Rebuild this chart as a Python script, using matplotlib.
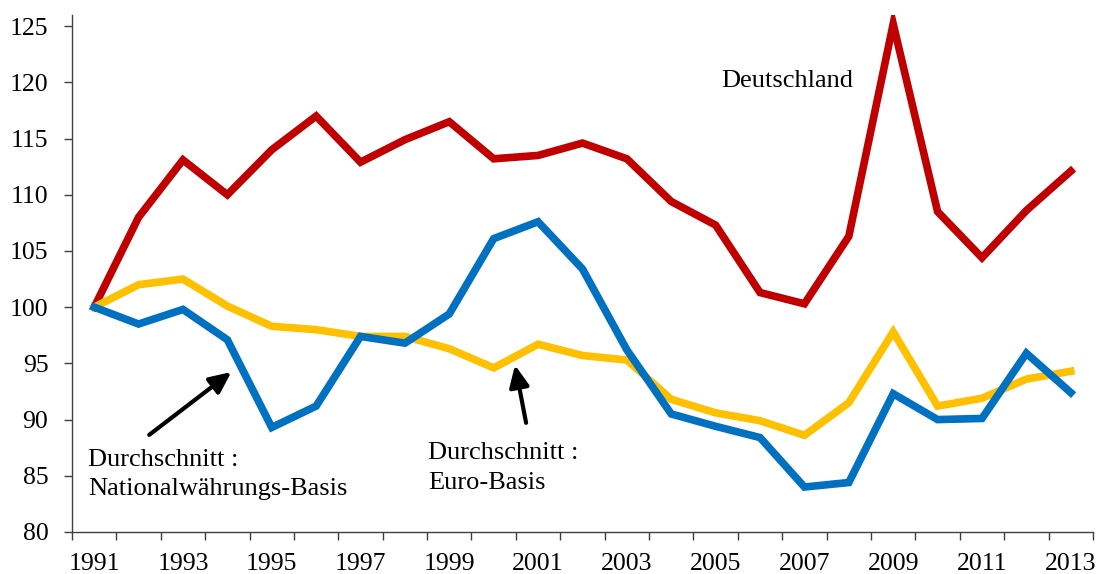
import matplotlib
matplotlib.use("Agg")
import matplotlib.pyplot as plt
import numpy as np

years = list(range(1991, 2014))
deutschland = [100, 108, 113.1, 110, 114, 117, 112.9, 114.9, 116.5, 113.2, 113.5, 114.6,
               113.2, 109.4, 107.3, 101.3, 100.3, 106.3, 125.2, 108.5, 104.4, 108.6, 112.1]
euro_basis = [100, 102, 102.5, 100.1, 98.3, 98, 97.4, 97.4, 96.3, 94.6, 96.7, 95.7,
              95.3, 91.8, 90.6, 89.9, 88.6, 91.5, 97.8, 91.2, 91.9, 93.6, 94.3]
national_basis = [100, 98.5, 99.8, 97.1, 89.3, 91.2, 97.4, 96.8, 99.4, 106.1, 107.6, 103.4,
                  96.2, 90.5, 89.4, 88.4, 84, 84.4, 92.3, 90, 90.1, 95.9, 92.4]
y_ticks = [80, 85, 90, 95, 100, 105, 110, 115, 120, 125]
x_labels = list(range(1991, 2014, 2))

plt.rcParams['font.family'] = ['Liberation Serif', 'DejaVu Serif']

fig = plt.figure(figsize=(10.99, 5.74), dpi=100)
ax = fig.add_axes([0.0655, 0.0732, 0.929, 0.9008])

ax.plot(years, deutschland, color='#C00000', lw=5.5, solid_joinstyle='miter', zorder=3)
ax.plot(years, euro_basis, color='#FFC000', lw=5.5, solid_joinstyle='miter', zorder=3)
ax.plot(years, national_basis, color='#0070C0', lw=5.5, solid_joinstyle='miter', zorder=4)

ax.set_xlim(1990.5, 2013.5)
ax.set_ylim(80, 126)
ax.set_yticks(y_ticks)
ax.set_yticklabels([str(v) for v in y_ticks])
ax.set_xticks(x_labels)
ax.set_xticklabels([str(v) for v in x_labels])
ax.set_xticks(np.arange(1990.5, 2014, 1.0), minor=True)

for s in ['top', 'right']:
    ax.spines[s].set_visible(False)
for s in ['left', 'bottom']:
    ax.spines[s].set_color('#404040')
    ax.spines[s].set_linewidth(1.0)

ax.tick_params(axis='y', which='major', length=6, width=1, color='#404040',
               labelsize=18.5, pad=11)
ax.tick_params(axis='x', which='major', length=0, labelsize=18.5, pad=15)
ax.tick_params(axis='x', which='minor', length=6, width=1, color='#404040', direction='out')

ax.text(2005.12, 120.1, 'Deutschland', fontsize=19, va='center', ha='left')
ax.text(1990.86, 87.4, 'Durchschnitt :\nNationalwährungs-Basis', fontsize=19,
        va='top', ha='left', linespacing=1.45)
ax.text(1998.52, 88.0, 'Durchschnitt :\nEuro-Basis', fontsize=19,
        va='top', ha='left', linespacing=1.45)

arrowprops = dict(arrowstyle='-|>,head_length=0.65,head_width=0.3', color='black', lw=3,
                  shrinkA=0, shrinkB=0, mutation_scale=20)
ax.annotate('', xy=(1994.09, 94.23), xytext=(1992.24, 88.64), arrowprops=arrowprops)
ax.annotate('', xy=(2000.48, 94.85), xytext=(2000.73, 89.71), arrowprops=arrowprops)

fig.savefig('out.png', dpi=100)
